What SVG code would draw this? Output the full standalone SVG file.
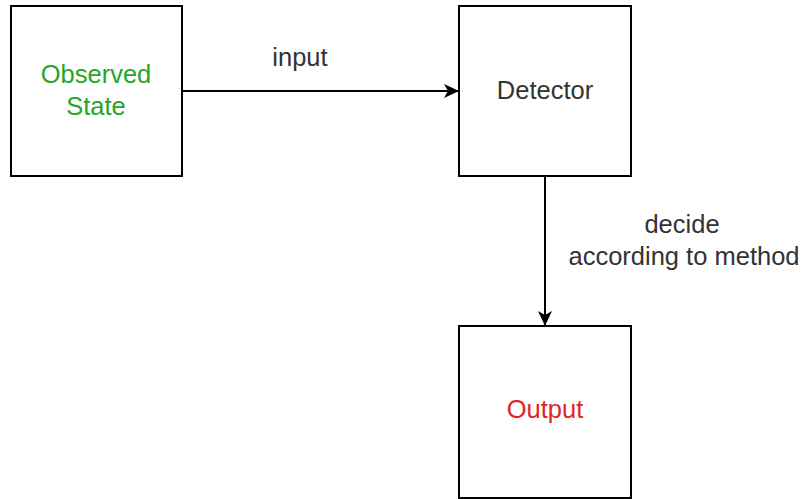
<svg xmlns="http://www.w3.org/2000/svg" width="803" height="499" viewBox="0 0 803 499">
<style>
.box{fill:#fff;stroke:#000;stroke-width:2}
.t{font-family:"Liberation Sans",Arial,sans-serif;font-size:25.5px;text-anchor:middle;fill:#333}
.edge{stroke:#000;stroke-width:2;fill:none}
</style>
<defs>
<marker id="arr" viewBox="0 0 15 14" refX="14" refY="7" markerWidth="15" markerHeight="14" markerUnits="userSpaceOnUse" orient="auto">
<path d="M0,0 L15,7 L0,14 L4,7 Z" fill="#000"/>
</marker>
</defs>
<rect width="803" height="499" fill="#fff"/>
<g id="connectors">
<path class="edge" d="M182,91 H458" marker-end="url(#arr)"/>
<path class="edge" d="M545,176 V325" marker-end="url(#arr)"/>
<text class="t" x="300" y="66">input</text>
<text class="t" x="682" y="233">decide</text>
<text class="t" x="684" y="265">according to method</text>
</g>
<g id="observed">
<rect class="box" x="11" y="6" width="171" height="170"/>
<text class="t" x="96" y="83" style="fill:#26a626">Observed</text>
<text class="t" x="96" y="115" style="fill:#26a626">State</text>
</g>
<g id="detector">
<rect class="box" x="459" y="6" width="172" height="170"/>
<text class="t" x="545" y="99">Detector</text>
</g>
<g id="output">
<rect class="box" x="459" y="326" width="172" height="172"/>
<text class="t" x="545" y="418" style="fill:#e02424">Output</text>
</g>
</svg>
